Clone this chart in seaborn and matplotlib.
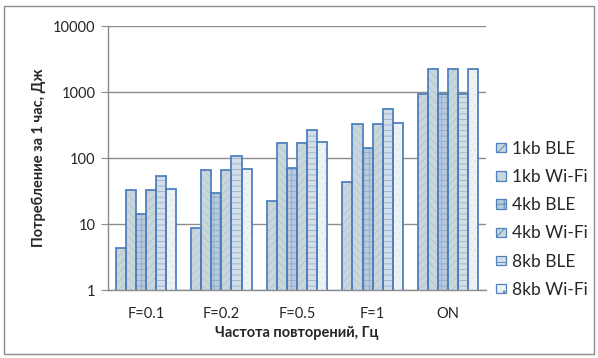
import numpy as np
import pandas as pd
import matplotlib
matplotlib.use("Agg")
import matplotlib.pyplot as plt
import seaborn as sns
from matplotlib.patches import Rectangle, Patch

# Data
categories = ["F=0.1", "F=0.2", "F=0.5", "F=1", "ON"]
series = ["1kb BLE", "1kb Wi-Fi", "4kb BLE", "4kb Wi-Fi", "8kb BLE", "8kb Wi-Fi"]
ble_1kb = [4.4, 8.8, 22, 44, 940]
wifi_1kb = [33, 66, 166, 333, 2260]
ble_4kb = [14.3, 29, 71, 144, 940]
wifi_4kb = [33, 66, 166, 333, 2260]
ble_8kb = [54, 109, 270, 544, 940]
wifi_8kb = [34, 68, 173, 345, 2260]

values = [ble_1kb, wifi_1kb, ble_4kb, wifi_4kb, ble_8kb, wifi_8kb]
df = pd.DataFrame({
    "cat": np.tile(categories, len(series)),
    "series": np.repeat(series, len(categories)),
    "value": np.concatenate(values),
})

sns.set_style("white")
plt.rcParams["font.family"] = ["Lato", "DejaVu Sans"]
plt.rcParams["hatch.linewidth"] = 0.6

fills = ["#c9d6dc", "#c9d6dc", "#b9cadb", "#c9d6dc", "#d3dee8", "#eef2f5"]
hatches = ["////", "\\\\\\\\", "+++", "////", "---", "..."]
hcolors = ["#b3c4cc", "#b3c4cc", "#8eaacb", "#b3c4cc", "#97b0cc", "#dde4ea"]
edge = "#4f81bd"

fig = plt.figure(figsize=(5.98, 3.58), dpi=100)
ax = fig.add_axes([108 / 598, 1 - 290 / 358, 378 / 598, 264 / 358])

# filled, hatched layer
sns.barplot(data=df, x="cat", y="value", hue="series", palette=fills,
            width=0.8, ax=ax, legend=False, linewidth=0, saturation=1)
ax.set_yscale("log")
for i, cont in enumerate(ax.containers):
    for p in cont:
        p.set_hatch(hatches[i])
        p.set_edgecolor(hcolors[i])
        p.set_linewidth(0)

# outline layer
sns.barplot(data=df, x="cat", y="value", hue="series", palette=[edge] * 6,
            width=0.8, ax=ax, legend=False, fill=False, linewidth=1.3, saturation=1)

ax.set_ylim(1, 10000)
ax.set_xlim(-0.5, 4.5)
ax.set_yticks([1, 10, 100, 1000, 10000])
ax.set_yticklabels(["1", "10", "100", "1000", "10000"])
ax.yaxis.set_minor_locator(matplotlib.ticker.NullLocator())
ax.yaxis.grid(True, color="#8c8c8c", linewidth=1.0)
ax.set_axisbelow(True)

ax.set_xticks(np.arange(5))
ax.set_xticklabels(categories)
ax.set_xticks(np.arange(-0.5, 5.0, 1.0), minor=True)
ax.tick_params(axis="x", which="major", length=0, pad=12, labelsize=10.5)
ax.tick_params(axis="x", which="minor", length=5, color="#8c8c8c", direction="out")
ax.tick_params(axis="y", length=5, color="#8c8c8c", direction="out", left=True,
               labelsize=10.5, pad=4)

for s in ["top", "right"]:
    ax.spines[s].set_visible(False)
for s in ["left", "bottom"]:
    ax.spines[s].set_color("#8c8c8c")
    ax.spines[s].set_linewidth(1.0)

ax.set_xlabel("Частота повторений, Гц", fontsize=10.5, fontweight="bold", labelpad=4)
ax.set_ylabel("Потребление за 1 час, Дж", fontsize=10.5, fontweight="bold", labelpad=5)

handles = [Patch(facecolor=fills[i], edgecolor=edge, hatch=hatches[i][:2], linewidth=0.9)
           for i in range(len(series))]
leg = ax.legend(handles, series, loc="upper left", bbox_to_anchor=(489 / 598, 1 - 134 / 358),
                bbox_transform=fig.transFigure, frameon=False, fontsize=12.5,
                handlelength=0.6, handleheight=0.45, handletextpad=0.3,
                labelspacing=0.7, borderaxespad=0)
for t in leg.get_texts():
    t.set_color("#262626")

fig.patches.append(Rectangle((4 / 598, 4 / 358), 590 / 598, 348 / 358,
                             transform=fig.transFigure, fill=False,
                             edgecolor="#8c8c8c", linewidth=1.0))

fig.savefig("out.png", dpi=100)
